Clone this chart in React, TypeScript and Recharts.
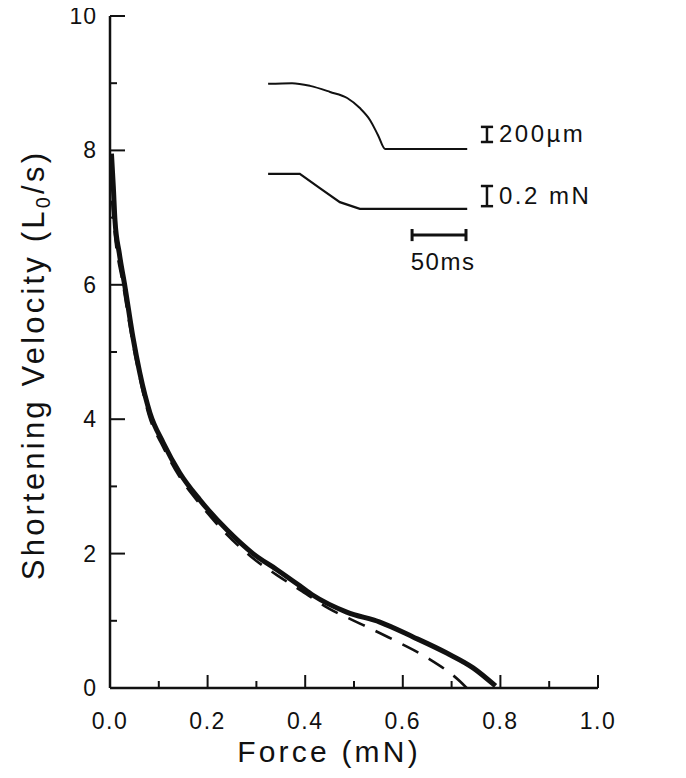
import React from "react";
import { LineChart, Line, XAxis, YAxis, ReferenceLine, ReferenceDot } from "recharts";

// Measured force-velocity curve (solid) and fitted curve (dashed)
const measuredForce = [0.003, 0.0068, 0.0102, 0.019, 0.0307, 0.047, 0.061, 0.082, 0.109, 0.143, 0.184, 0.24, 0.293, 0.342, 0.389, 0.416, 0.485, 0.553, 0.621, 0.69, 0.744, 0.79];
const measuredVelocity = [7.95, 7.46, 6.96, 6.47, 5.97, 5.22, 4.69, 4.09, 3.65, 3.2, 2.8, 2.35, 2.0, 1.76, 1.52, 1.38, 1.13, 0.98, 0.76, 0.52, 0.3, 0.03];

const fitForce = [0.0, 0.008, 0.028, 0.045, 0.06, 0.08, 0.108, 0.142, 0.184, 0.24, 0.293, 0.342, 0.389, 0.447, 0.518, 0.58, 0.65, 0.717, 0.731];
const fitVelocity = [7.7, 6.9, 5.95, 5.2, 4.65, 4.05, 3.6, 3.15, 2.74, 2.28, 1.93, 1.68, 1.46, 1.19, 0.94, 0.72, 0.45, 0.1, 0.0];

// Inset traces (drawn in the plot's coordinate space)
const lengthTraceX = [0.324, 0.373, 0.41, 0.451, 0.486, 0.512, 0.533, 0.549, 0.564, 0.732];
const lengthTraceY = [8.99, 9.0, 8.96, 8.87, 8.78, 8.63, 8.45, 8.23, 8.02, 8.02];
const forceTraceX = [0.324, 0.389, 0.43, 0.471, 0.512, 0.732];
const forceTraceY = [7.65, 7.65, 7.44, 7.23, 7.13, 7.13];

// Scale bars
const lengthBar = { x: 0.7725, y1: 8.125, y2: 8.35, label: "200µm" };
const forceBar = { x: 0.7725, y1: 7.17, y2: 7.47, label: "0.2 mN" };
const timeBar = { x1: 0.619, x2: 0.7295, y: 6.74, label: "50ms" };

const xTicks = [0, 0.1, 0.2, 0.3, 0.4, 0.5, 0.6, 0.7, 0.8, 0.9, 1.0];
const yTicks = [0, 1, 2, 3, 4, 5, 6, 7, 8, 9, 10];

const xTitle = "Force (mN)";
const yTitleMain = "Shortening Velocity (L";
const yTitleSub = "0";
const yTitleEnd = "/s)";

const zip = (xs: number[], ys: number[]) => xs.map((x, i) => ({ x, y: ys[i] }));

const measuredData = zip(measuredForce, measuredVelocity);
const fitData = zip(fitForce, fitVelocity);
const lengthTrace = zip(lengthTraceX, lengthTraceY);
const forceTrace = zip(forceTraceX, forceTraceY);

const FONT = "'Liberation Sans', Arial, Helvetica, sans-serif";
const INK = "#111";

const XTick = (props: any) => {
  const { x, y, payload } = props;
  const v = payload.value as number;
  const major = Math.round(v * 10) % 2 === 0;
  return (
    <g>
      <line x1={x} x2={x} y1={y} y2={y - (major ? 13 : 7)} stroke={INK} strokeWidth={2} />
      {major && (
        <text x={x} y={y + 41} textAnchor="middle" fontSize={23} letterSpacing={1.5} fontFamily={FONT} fill={INK}>
          {v.toFixed(1)}
        </text>
      )}
    </g>
  );
};

const YTick = (props: any) => {
  const { x, y, payload } = props;
  const v = payload.value as number;
  const major = v % 2 === 0;
  return (
    <g>
      <line x1={x} x2={x + (major ? 15 : 7)} y1={y} y2={y} stroke={INK} strokeWidth={2} />
      {major && (
        <text x={x - 13} y={y + 8} textAnchor="end" fontSize={23} letterSpacing={1} fontFamily={FONT} fill={INK}>
          {String(v)}
        </text>
      )}
    </g>
  );
};

const XTitle = (props: any) => {
  const vb = props.viewBox;
  return (
    <text x={vb.x + vb.width / 2 - 25} y={vb.y + 74} textAnchor="middle" fontSize={30} letterSpacing={3.2} fontFamily={FONT} fill={INK}>
      {xTitle}
    </text>
  );
};

const YTitle = (props: any) => {
  const vb = props.viewBox;
  const cx = vb.x + 14;
  const cy = vb.y + vb.height / 2 + 13;
  return (
    <text
      x={cx}
      y={cy}
      transform={`rotate(-90, ${cx}, ${cy})`}
      textAnchor="middle"
      fontSize={31}
      letterSpacing={3.2}
      fontFamily={FONT}
      fill={INK}
    >
      {yTitleMain}
      <tspan fontSize={20} dy={6}>{yTitleSub}</tspan>
      <tspan dy={-6}>{yTitleEnd}</tspan>
    </text>
  );
};

const RightLabel = (text: string) => (props: any) => {
  const vb = props.viewBox;
  return (
    <text x={vb.x + 12} y={vb.y + 8} textAnchor="start" fontSize={24} letterSpacing={2.5} fontFamily={FONT} fill={INK}>
      {text}
    </text>
  );
};

const CenterLabel = (text: string) => (props: any) => {
  const vb = props.viewBox;
  return (
    <text x={vb.x + 4} y={vb.y + 8} textAnchor="middle" fontSize={24} letterSpacing={1.5} fontFamily={FONT} fill={INK}>
      {text}
    </text>
  );
};

const capX = 0.0125;
const capY = 0.09;

export default function App() {
  return (
    <div style={{ width: 686, height: 778, background: "#fff", margin: "-8px 0 0 -8px" }}>
      <LineChart width={686} height={778} margin={{ top: 16, right: 88, bottom: 30, left: 30 }}>
        <XAxis
          dataKey="x"
          type="number"
          domain={[0, 1]}
          ticks={xTicks}
          interval={0}
          tickSize={0}
          tickMargin={0}
          tick={<XTick />}
          height={60}
          axisLine={{ stroke: INK, strokeWidth: 2.5 }}
          label={<XTitle />}
          allowDataOverflow
        />
        <YAxis
          type="number"
          domain={[0, 10]}
          ticks={yTicks}
          interval={0}
          tickSize={0}
          tickMargin={0}
          tick={<YTick />}
          width={80}
          axisLine={{ stroke: INK, strokeWidth: 2.5 }}
          label={<YTitle />}
          allowDataOverflow
        />
        <Line data={fitData} dataKey="y" type="monotone" stroke={INK} strokeWidth={2.6} strokeDasharray="18 12" dot={false} activeDot={false} isAnimationActive={false} />
        <Line data={measuredData} dataKey="y" type="monotone" stroke={INK} strokeWidth={5} dot={false} activeDot={false} isAnimationActive={false} />
        <Line data={lengthTrace} dataKey="y" type="monotone" stroke={INK} strokeWidth={2} dot={false} activeDot={false} isAnimationActive={false} />
        <Line data={forceTrace} dataKey="y" type="linear" stroke={INK} strokeWidth={2.2} dot={false} activeDot={false} isAnimationActive={false} />

        {/* 200 µm scale bar */}
        <ReferenceLine segment={[{ x: lengthBar.x, y: lengthBar.y1 }, { x: lengthBar.x, y: lengthBar.y2 }]} stroke={INK} strokeWidth={2.5} />
        <ReferenceLine segment={[{ x: lengthBar.x - capX, y: lengthBar.y1 }, { x: lengthBar.x + capX, y: lengthBar.y1 }]} stroke={INK} strokeWidth={2.5} />
        <ReferenceLine segment={[{ x: lengthBar.x - capX, y: lengthBar.y2 }, { x: lengthBar.x + capX, y: lengthBar.y2 }]} stroke={INK} strokeWidth={2.5} />
        <ReferenceDot x={lengthBar.x} y={(lengthBar.y1 + lengthBar.y2) / 2} r={0} stroke="none" fill="none" label={RightLabel(lengthBar.label)} />

        {/* 0.2 mN scale bar */}
        <ReferenceLine segment={[{ x: forceBar.x, y: forceBar.y1 }, { x: forceBar.x, y: forceBar.y2 }]} stroke={INK} strokeWidth={2.5} />
        <ReferenceLine segment={[{ x: forceBar.x - capX, y: forceBar.y1 }, { x: forceBar.x + capX, y: forceBar.y1 }]} stroke={INK} strokeWidth={2.5} />
        <ReferenceLine segment={[{ x: forceBar.x - capX, y: forceBar.y2 }, { x: forceBar.x + capX, y: forceBar.y2 }]} stroke={INK} strokeWidth={2.5} />
        <ReferenceDot x={forceBar.x} y={(forceBar.y1 + forceBar.y2) / 2} r={0} stroke="none" fill="none" label={RightLabel(forceBar.label)} />

        {/* 50 ms scale bar */}
        <ReferenceLine segment={[{ x: timeBar.x1, y: timeBar.y }, { x: timeBar.x2, y: timeBar.y }]} stroke={INK} strokeWidth={3} />
        <ReferenceLine segment={[{ x: timeBar.x1, y: timeBar.y - capY }, { x: timeBar.x1, y: timeBar.y + capY }]} stroke={INK} strokeWidth={3} />
        <ReferenceLine segment={[{ x: timeBar.x2, y: timeBar.y - capY }, { x: timeBar.x2, y: timeBar.y + capY }]} stroke={INK} strokeWidth={3} />
        <ReferenceDot x={(timeBar.x1 + timeBar.x2) / 2} y={timeBar.y - 0.4} r={0} stroke="none" fill="none" label={CenterLabel(timeBar.label)} />
      </LineChart>
    </div>
  );
}
